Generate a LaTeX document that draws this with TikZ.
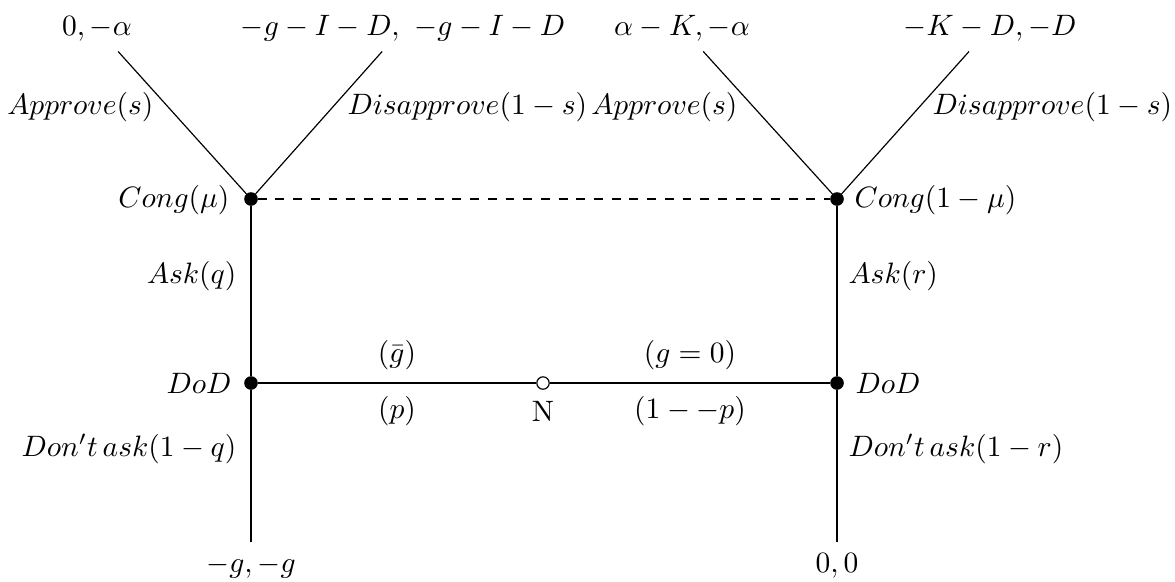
\documentclass[tikz,border=0pt]{standalone}
\begin{document}
\begin{tikzpicture}[x=0.339pt,y=-0.339pt,
  dot/.style={circle,fill=black,draw=black,inner sep=0pt,minimum size=4.2pt},
  chance/.style={circle,draw=black,fill=white,inner sep=0pt,minimum size=4.2pt},
  leaf/.style={text height=6.8pt,text depth=1.9pt,inner sep=3.4pt},
  lab/.style={inner sep=0pt},
  branch/.style={line width=0.4pt}]
\useasboundingbox (0,0) rectangle (1175,581);
% decision nodes
\node[dot] (c1) at (251,199) {};
\node[dot] (c2) at (837,199) {};
\node[dot] (d1) at (251,383) {};
\node[dot] (d2) at (837,383) {};
\node[chance] (n) at (543,383) {};
% payoffs
\node[leaf] (l1) at (97,28) {$0,-\alpha$};
\node[leaf] (l2) at (403,28) {$-g-I-D,\ -g-I-D$};
\node[leaf] (l3) at (682,28) {$\alpha-K,-\alpha$};
\node[leaf] (l4) at (990,28) {$-K-D,-D$};
\node[leaf] (b1) at (251,565) {$-g,-g$};
\node[leaf] (b2) at (837,565) {$0,0$};
% edges
\draw[branch] (c1) -- (l1);
\draw[branch] (c1) -- (l2);
\draw[branch] (c2) -- (l3);
\draw[branch] (c2) -- (l4);
\draw[branch] (c1) -- (d1);
\draw[branch] (c2) -- (d2);
\draw[branch] (d1) -- (b1);
\draw[branch] (d2) -- (b2);
\draw[branch] (d1) -- (n);
\draw[branch] (n) -- (d2);
\draw[branch,dashed] (c1) -- (c2);
% labels
\node[lab,anchor=east] (a1) at (154,107) {$Approve(s)$};
\node[lab,anchor=west] (a2) at (347,107) {$Disapprove(1-s)$};
\node[lab,anchor=east] (a3) at (738,107) {$Approve(s)$};
\node[lab,anchor=west] (a4) at (932,107) {$Disapprove(1-s)$};
\node[lab,anchor=east] (k1) at (230,200) {$Cong(\mu)$};
\node[lab,anchor=west] (k2) at (854,200) {$Cong(1-\mu)$};
\node[lab,anchor=east] (q1) at (237,276) {$Ask(q)$};
\node[lab,anchor=west] (q2) at (848,276) {$Ask(r)$};
\node[lab,anchor=east] (o1) at (232,383) {$DoD$};
\node[lab,anchor=west] (o2) at (855,383) {$DoD$};
\node[lab,anchor=east] (x1) at (237,449) {$Don't\,ask(1-q)$};
\node[lab,anchor=west] (x2) at (848,449) {$Don't\,ask(1-r)$};
\node[lab] (g1) at (397,355) {$(\bar{g})$};
\node[lab] (p1) at (397,411) {$(p)$};
\node[lab] (nl) at (543,411) {N};
\node[lab] (g2) at (690,355) {$(g=0)$};
\node[lab] (p2) at (690,411) {$(1--p)$};
\end{tikzpicture}
\end{document}
